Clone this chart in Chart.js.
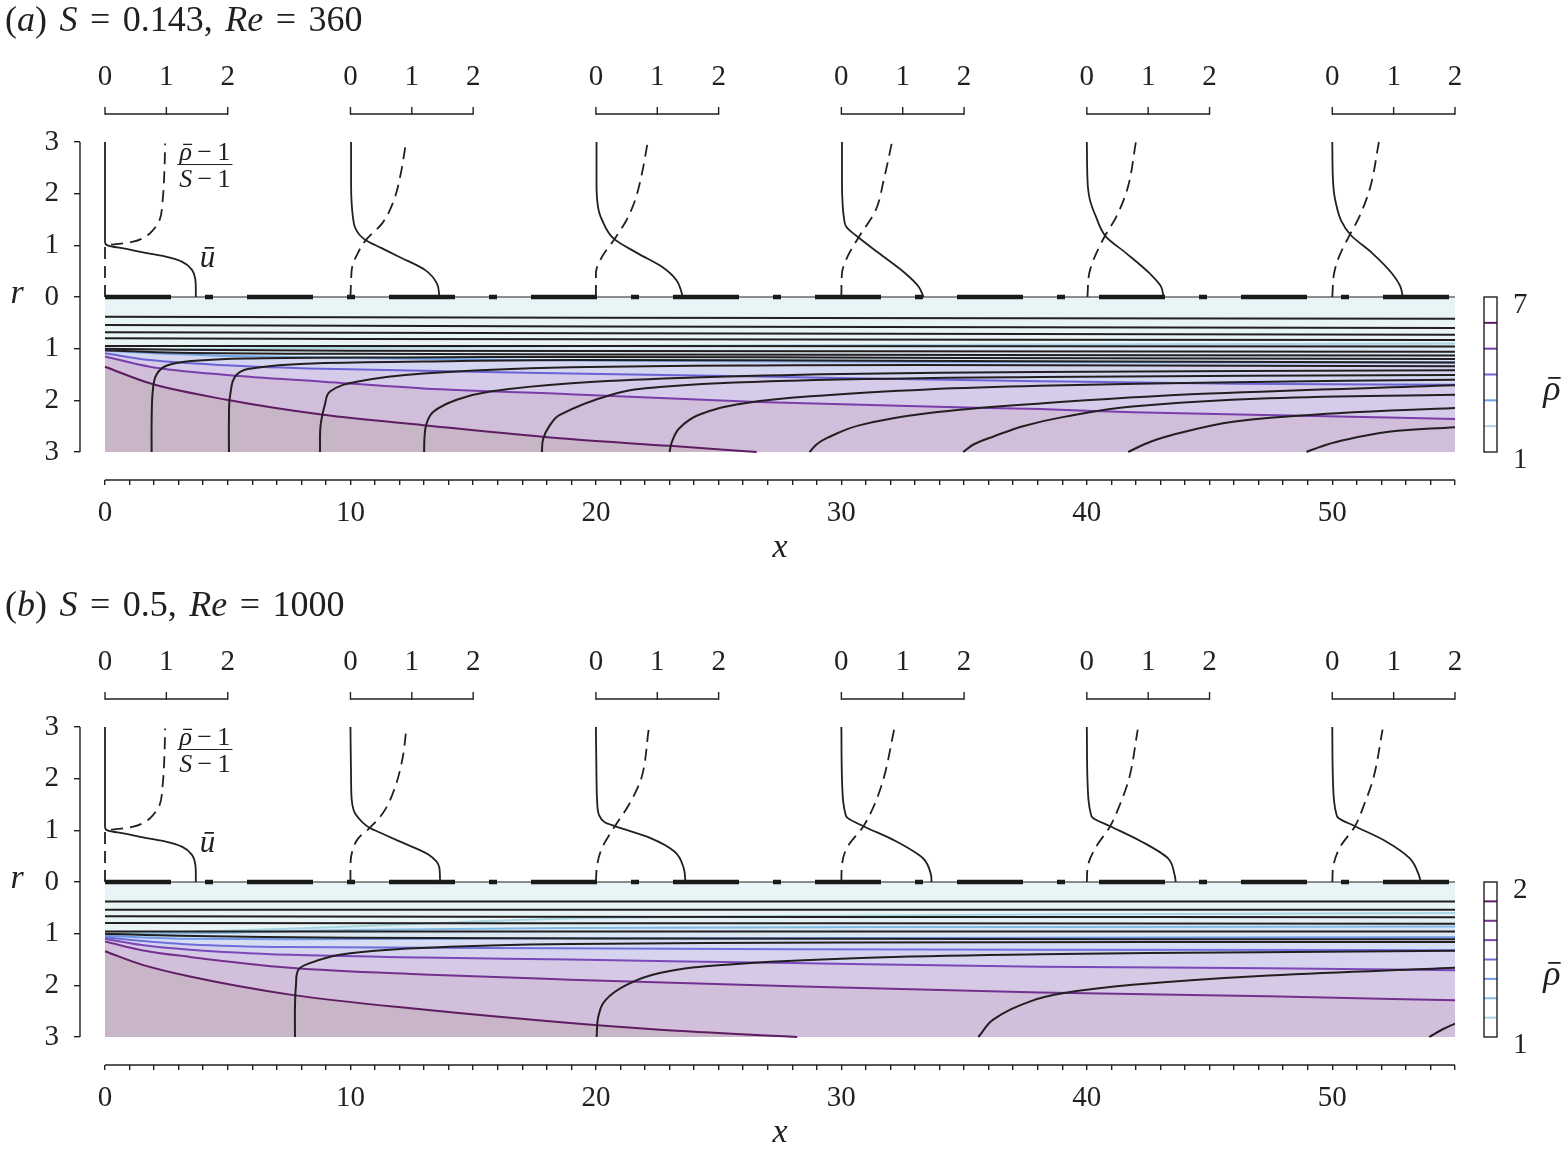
<!DOCTYPE html>
<html><head><meta charset="utf-8">
<script src="https://cdn.jsdelivr.net/npm/chart.js@4.4.1/dist/chart.umd.min.js"></script>
<style>
html,body{margin:0;padding:0;background:#fff;width:1563px;height:1157px;overflow:hidden;}
.panel{position:absolute;left:0;width:1563px;height:585px;}
canvas{position:absolute;left:0;top:0;}
.title{position:absolute;left:5px;top:1px;font-family:"Liberation Serif","Times New Roman",serif;font-size:36px;line-height:1;color:#231f20;white-space:pre;word-spacing:3.5px;}
</style></head><body>
<div class="panel" style="top:0"><canvas id="ca" width="1563" height="585"></canvas><div class="title">(<i>a</i>) <i>S</i> = 0.143, <i>Re</i> = 360</div></div>
<div class="panel" style="top:585px"><canvas id="cb" width="1563" height="585"></canvas><div class="title">(<i>b</i>) <i>S</i> = 0.5, <i>Re</i> = 1000</div></div>
<script>
// ================= DATA =================
const stations = [0, 10, 20, 30, 40, 50];
const profileTickLabels = [0, 1, 2];
const xMajorTicks = [0, 10, 20, 30, 40, 50];
const rTickValues = [3, 2, 1, 0, -1, -2, -3];

// ---- panel (a): S = 0.143, Re = 360 ----
const a_levels = [2, 3, 4, 5, 6];
const a_rhoRange = [1, 7];
// density contours [x, r]
const a_rho2 = [[0,1.02],[5,1.0],[10,0.98],[20,0.95],[38,0.92],[55,0.90]];
const a_rho3 = [[0,1.04],[2,1.09],[5,1.14],[10,1.18],[19,1.23],[38,1.26],[55,1.27]];
const a_rho4 = [[0,1.09],[1.83,1.22],[4.96,1.32],[8.89,1.39],[18.94,1.48],[26.6,1.54],[38.1,1.63],[46,1.68],[55,1.70]];
const a_rho5 = [[0,1.15],[1.83,1.35],[4.96,1.51],[8.89,1.64],[12.97,1.77],[18.94,1.88],[26.6,2.03],[33.5,2.12],[38.1,2.17],[41.9,2.23],[48.8,2.30],[55,2.36]];
const a_rho6 = [[0,1.35],[1.83,1.67],[4.96,1.99],[8.89,2.28],[12.97,2.48],[18.94,2.75],[23.0,2.88],[26.55,3.0]];
// streamlines [x, r]
const a_J1 = [[0,0.38],[20,0.40],[55,0.42]];
const a_J2 = [[0,0.54],[20,0.57],[55,0.60]];
const a_J3 = [[0,0.68],[20,0.70],[55,0.73]];
const a_J4 = [[0,0.80],[20,0.82],[55,0.83]];
const a_J5 = [[0,0.95],[20,0.95],[55,0.96]];
const a_J6 = [[0,1.00],[3,1.02],[10,1.04],[30,1.05],[55,1.06]];
const a_J7 = [[0,1.03],[3,1.08],[10,1.10],[30,1.12],[55,1.13]];
const a_S1 = [[1.9,3],[1.9,2.4],[1.95,1.8],[2.1,1.5],[2.5,1.33],[3.5,1.24],[6,1.19],[12,1.17],[19,1.16],[35,1.18],[55,1.20]];
const a_S2 = [[5.05,3],[5.05,2.4],[5.1,1.9],[5.37,1.5],[6.18,1.37],[8.22,1.29],[12.97,1.25],[19,1.22],[35,1.24],[55,1.27]];
const a_S3 = [[8.76,3],[8.78,2.5],[8.95,2.1],[9.17,1.83],[10.25,1.64],[12.97,1.48],[19,1.36],[28,1.32],[38,1.32],[55,1.34]];
const a_S4 = [[13.0,3],[13.02,2.7],[13.1,2.45],[13.38,2.22],[14.33,1.99],[15.69,1.83],[19,1.67],[24,1.56],[30,1.49],[38,1.45],[55,1.42]];
const a_S5 = [[17.8,3],[17.85,2.75],[18.1,2.5],[18.53,2.28],[20.57,1.90],[22.6,1.74],[28,1.62],[38.1,1.55],[55,1.51]];
const a_S6 = [[23.0,3],[23.1,2.8],[23.4,2.54],[24.2,2.28],[26.0,2.06],[29.4,1.90],[33.5,1.79],[38.1,1.72],[46,1.65],[55,1.60]];
const a_S7 = [[28.7,3],[29.0,2.85],[29.4,2.73],[30.76,2.48],[33.5,2.25],[38.1,2.06],[45,1.87],[55,1.71]];
const a_S8 = [[34.96,3],[35.4,2.85],[36.2,2.70],[37.4,2.50],[39.07,2.32],[41.86,2.12],[47.42,1.96],[55,1.89]];
const a_S9 = [[41.69,3],[42.3,2.86],[43.25,2.70],[46.03,2.41],[50.2,2.25],[55,2.15]];
const a_S10 = [[48.95,3],[49.5,2.9],[50.2,2.80],[52.3,2.61],[55,2.52]];
// profiles [r, value]
const a_u0 = [[3,0],[2,0],[1.3,0],[1.06,0],[1.0,0.04],[0.93,0.35],[0.85,0.68],[0.78,0.99],[0.68,1.26],[0.52,1.42],[0.35,1.47],[0.15,1.48],[0,1.48]];
const a_d0 = [[0,0],[0.5,0],[0.97,0],[1.0,0.03],[1.02,0.15],[1.04,0.3],[1.07,0.46],[1.14,0.62],[1.23,0.73],[1.35,0.82],[1.49,0.89],[1.88,0.94],[2.5,0.97],[2.97,0.98]];
const a_u10 = [[3,0.01],[2.2,0.01],[1.8,0.02],[1.55,0.04],[1.36,0.07],[1.2,0.15],[1.1,0.25],[0.95,0.5],[0.78,0.79],[0.52,1.22],[0.26,1.41],[0,1.45]];
const a_d10 = [[0,0],[0.3,0.01],[0.59,0.03],[0.85,0.12],[1.1,0.25],[1.43,0.52],[1.88,0.71],[2.39,0.82],[2.95,0.90]];
const a_u20 = [[3,0.01],[2.2,0.01],[1.88,0.02],[1.65,0.05],[1.49,0.10],[1.13,0.29],[0.84,0.69],[0.59,1.07],[0.33,1.31],[0.07,1.40],[0,1.41]];
const a_d20 = [[0,0],[0.46,0.0],[0.78,0.10],[1.10,0.29],[1.49,0.50],[1.88,0.64],[2.39,0.75],[2.97,0.84]];
const a_u30 = [[3,0.01],[2.2,0.01],[1.81,0.02],[1.55,0.04],[1.36,0.08],[1.17,0.26],[0.85,0.61],[0.46,1.04],[0.2,1.26],[0,1.34]];
const a_d30 = [[0,0],[0.46,0.01],[0.78,0.10],[1.17,0.29],[1.68,0.56],[2.26,0.69],[2.97,0.82]];
const a_u40 = [[3,0],[2.3,0.01],[2.1,0.02],[1.88,0.05],[1.55,0.15],[1.17,0.31],[0.85,0.64],[0.46,1.02],[0.2,1.21],[0,1.25]];
const a_d40 = [[0,0.01],[0.46,0.04],[0.78,0.13],[1.17,0.29],[1.55,0.48],[2.13,0.67],[3.0,0.80]];
const a_u50 = [[3,0],[2.3,0.01],[2.0,0.03],[1.81,0.06],[1.49,0.14],[1.2,0.30],[0.85,0.65],[0.46,0.97],[0.2,1.11],[0,1.15]];
const a_d50 = [[0,0],[0.46,0.03],[0.78,0.11],[1.17,0.27],[1.55,0.44],[2.13,0.62],[3.0,0.76]];

// ---- panel (b): S = 0.5, Re = 1000 ----
const b_levels = [1.125, 1.25, 1.375, 1.5, 1.625, 1.75, 1.875];
const b_rhoRange = [1, 2];
const b_rho1125 = [[0,1.0],[4,0.96],[10,0.86],[18.5,0.71],[28,0.66],[38.1,0.63],[55,0.60]];
const b_rho125 = [[0,1.02],[5,0.98],[10,0.93],[18.7,0.89],[38,0.87],[55,0.86]];
const b_rho1375 = [[0,1.04],[3.46,1.10],[8,1.11],[18.5,1.09],[38,1.08],[55,1.07]];
const b_rho15 = [[0,1.07],[1.5,1.14],[3.46,1.21],[7.54,1.26],[18.5,1.28],[28,1.30],[38.1,1.31],[55,1.32]];
const b_rho1625 = [[0,1.10],[1.5,1.22],[3.46,1.31],[7.54,1.41],[12.97,1.46],[18.94,1.50],[28,1.57],[38.1,1.64],[47.4,1.67],[55,1.71]];
const b_rho175 = [[0,1.15],[1.5,1.32],[3.46,1.45],[7.54,1.66],[12.97,1.79],[18.94,1.89],[28,2.02],[38.1,2.14],[47.4,2.21],[55,2.29]];
const b_rho1875 = [[0,1.34],[1.5,1.6],[3.46,1.83],[7.54,2.18],[12.97,2.47],[18.94,2.73],[22.6,2.86],[28.2,3.0]];
const b_J1 = [[0,0.375],[30,0.375],[55,0.375]];
const b_J2 = [[0,0.536],[30,0.536],[55,0.536]];
const b_J3 = [[0,0.665],[30,0.675],[55,0.68]];
const b_J4 = [[0,0.794],[30,0.80],[55,0.81]];
const b_J5 = [[0,0.956],[30,0.956],[55,0.956]];
const b_J6 = [[0,1.0],[3,1.04],[10,1.08],[30,1.10],[55,1.11]];
const b_S1 = [[7.74,3],[7.74,2.4],[7.78,2.0],[7.88,1.70],[8.35,1.57],[9.57,1.41],[11.6,1.31],[15.7,1.23],[19,1.20],[30,1.17],[55,1.16]];
const b_S2 = [[20.03,3],[20.1,2.6],[20.4,2.28],[21.25,1.99],[22.6,1.76],[25.3,1.60],[30.8,1.47],[38.1,1.40],[47,1.36],[55,1.33]];
const b_S3 = [[35.58,3],[36.2,2.66],[37.7,2.31],[39.07,2.15],[41.86,1.99],[47.42,1.81],[55,1.66]];
const b_S4 = [[53.95,3],[54.5,2.85],[55,2.74]];
const b_u0 = [[3,0],[2,0],[1.3,0],[1.06,0],[1.0,0.04],[0.93,0.35],[0.85,0.68],[0.78,0.99],[0.68,1.26],[0.52,1.42],[0.35,1.47],[0.15,1.48],[0,1.48]];
const b_d0 = [[0,0],[0.5,0],[0.97,0],[1.0,0.03],[1.02,0.15],[1.04,0.3],[1.07,0.46],[1.14,0.62],[1.23,0.73],[1.35,0.82],[1.49,0.89],[1.88,0.94],[2.5,0.97],[2.97,0.98]];
const b_u10 = [[3,0],[2.0,0.01],[1.6,0.02],[1.4,0.05],[1.3,0.09],[1.15,0.2],[1.05,0.31],[0.92,0.55],[0.79,0.79],[0.53,1.27],[0.27,1.45],[0,1.46]];
const b_d10 = [[0,0],[0.3,0.0],[0.6,0.03],[0.85,0.13],[1.01,0.28],[1.2,0.44],[1.43,0.58],[1.88,0.74],[2.4,0.85],[2.95,0.91]];
const b_u20 = [[3,0],[2.0,0.01],[1.56,0.02],[1.3,0.05],[1.15,0.15],[1.08,0.31],[0.85,0.89],[0.59,1.28],[0.27,1.43],[0,1.46]];
const b_d20 = [[0,0],[0.33,0.02],[0.66,0.10],[1.08,0.31],[1.5,0.54],[2.01,0.74],[2.95,0.86]];
const b_u30 = [[3,0],[2.0,0.01],[1.56,0.03],[1.35,0.06],[1.24,0.10],[1.08,0.36],[0.79,0.89],[0.46,1.33],[0.14,1.46],[0,1.47]];
const b_d30 = [[0,0],[0.33,0.01],[0.66,0.09],[1.08,0.36],[1.5,0.54],[2.01,0.69],[2.95,0.86]];
const b_u40 = [[3,0],[2.0,0.01],[1.56,0.03],[1.35,0.06],[1.24,0.10],[1.08,0.38],[0.79,0.88],[0.46,1.32],[0.14,1.43],[0,1.45]];
const b_d40 = [[0,0],[0.33,0.02],[0.66,0.14],[1.08,0.38],[1.5,0.54],[2.01,0.69],[2.95,0.83]];
const b_u50 = [[3,0],[2.0,0.01],[1.56,0.03],[1.35,0.06],[1.24,0.10],[1.08,0.37],[0.79,0.87],[0.46,1.26],[0.14,1.41],[0,1.44]];
const b_d50 = [[0,0],[0.33,0.02],[0.66,0.12],[1.08,0.37],[1.5,0.52],[2.01,0.67],[2.95,0.82]];

// ================= STYLE / LAYOUT =================
const INK = '#231f20';
const FONT = '"Liberation Serif","Times New Roman",serif';
const X_MIN = 0, X_MAX = 55, R_MAX = 3;
const PS = 2.5;                 // x-units per profile unit (profile axes 0..2 span 5)
const PX_PER_R = 155 / 3;       // vertical layout
const PX_PER_X = 1350 / 55;     // horizontal layout
const AREA = {left: 80, x0: 105, right: 1455, top: 60, bottom: 480, axis0: 297};

const PANEL_A = {
  id: 'a', rhoRange: a_rhoRange, levels: a_levels,
  contours: [a_rho2, a_rho3, a_rho4, a_rho5, a_rho6],
  stream: [a_J1, a_J2, a_J3, a_J4, a_J5, a_J6, a_J7, a_S1, a_S2, a_S3, a_S4, a_S5, a_S6, a_S7, a_S8, a_S9, a_S10],
  u: [a_u0, a_u10, a_u20, a_u30, a_u40, a_u50], d: [a_d0, a_d10, a_d20, a_d30, a_d40, a_d50],
  base: '#e9f4f6',
  bands: ['#dde9f5', '#d5d7f1', '#d6cbe9', '#d1bedb', '#c8b5c7'],
  lines: ['#a9d5e4', '#6ea3e6', '#6a63d6', '#7a3eab', '#5e1c62']
};
const PANEL_B = {
  id: 'b', rhoRange: b_rhoRange, levels: b_levels,
  contours: [b_rho1125, b_rho125, b_rho1375, b_rho15, b_rho1625, b_rho175, b_rho1875],
  stream: [b_J1, b_J2, b_J3, b_J4, b_J5, b_J6, b_S1, b_S2, b_S3, b_S4],
  u: [b_u0, b_u10, b_u20, b_u30, b_u40, b_u50], d: [b_d0, b_d10, b_d20, b_d30, b_d40, b_d50],
  base: '#e9f4f6',
  bands: ['#e2eff5', '#dbe8f4', '#d7def3', '#d6d3ef', '#d5c9e6', '#d1bfdb', '#c8b5c7'],
  lines: ['#a8d7e2', '#82bbe6', '#6f97e6', '#6e6fdc', '#7a48b8', '#73308e', '#5e1c62']
};

// rich text: parts = [text, italic, overbar]
function richText(ctx, parts, x, y, size, align) {
  const w = parts.map(([t, it]) => { ctx.font = (it ? 'italic ' : '') + size + 'px ' + FONT; return ctx.measureText(t).width; });
  const total = w.reduce((a, b) => a + b, 0);
  let cx = align === 'left' ? x : x - total / 2;
  ctx.textAlign = 'left';
  parts.forEach(([t, it, bar], i) => {
    ctx.font = (it ? 'italic ' : '') + size + 'px ' + FONT;
    ctx.fillText(t, cx, y);
    if (bar) {
      ctx.save(); ctx.lineWidth = Math.max(1, size * 0.05); ctx.strokeStyle = ctx.fillStyle;
      ctx.beginPath(); ctx.moveTo(cx + w[i] * 0.28, y - size * 0.6); ctx.lineTo(cx + w[i] * 1.0, y - size * 0.6); ctx.stroke();
      ctx.restore();
    }
    cx += w[i];
  });
  return total;
}

function makeDecor(P) {
  return {
    id: 'decor_' + P.id,
    afterDraw(chart) {
      const ctx = chart.ctx, xs = chart.scales.x, ys = chart.scales.y, ca = chart.chartArea;
      const X = v => xs.getPixelForValue(v), Y = v => ys.getPixelForValue(v);
      const seg = (x1, y1, x2, y2) => { ctx.beginPath(); ctx.moveTo(x1, y1); ctx.lineTo(x2, y2); ctx.stroke(); };
      ctx.save();
      ctx.strokeStyle = INK; ctx.fillStyle = INK; ctx.lineWidth = 1.4; ctx.lineCap = 'butt';
      // detached spines
      seg(ca.left, Y(R_MAX), ca.left, Y(-R_MAX));
      seg(X(X_MIN), ca.bottom, X(X_MAX), ca.bottom);
      // small profile axes on top
      const yb = Y(R_MAX) - 28;
      ctx.font = '29px ' + FONT; ctx.textAlign = 'center'; ctx.textBaseline = 'middle';
      const pMax = profileTickLabels[profileTickLabels.length - 1];
      stations.forEach(x0 => {
        seg(X(x0), yb, X(x0 + PS * pMax), yb);
        profileTickLabels.forEach(t => {
          const px = X(x0 + PS * t);
          seg(px, yb + 0.7, px, yb - 7);
          ctx.fillText(String(t), px, yb - 37);
        });
      });
      // axis titles
      ctx.textBaseline = 'alphabetic'; ctx.textAlign = 'center';
      ctx.font = 'italic 34px ' + FONT;
      ctx.fillText('r', ca.left - 63, Y(0) + 6);
      ctx.fillText('x', (X(X_MIN) + X(X_MAX)) / 2, ca.bottom + 77);
      // colorbar
      const [rmin, rmax] = P.rhoRange;
      const rv = rho => -R_MAX + R_MAX * (rho - rmin) / (rmax - rmin);
      const cbL = ca.right + 29, cbW = 13, cbT = Y(0), cbB = Y(-R_MAX);
      ctx.fillStyle = '#ffffff'; ctx.fillRect(cbL, cbT, cbW, cbB - cbT);
      P.levels.forEach((lv, i) => { ctx.strokeStyle = P.lines[i]; ctx.lineWidth = 2; seg(cbL, Y(rv(lv)), cbL + cbW, Y(rv(lv))); });
      ctx.strokeStyle = INK; ctx.lineWidth = 1.4; ctx.strokeRect(cbL, cbT, cbW, cbB - cbT);
      ctx.fillStyle = INK; ctx.font = '29px ' + FONT; ctx.textAlign = 'left'; ctx.textBaseline = 'middle';
      ctx.fillText(String(rmax), cbL + cbW + 16, cbT + 8);
      ctx.fillText(String(rmin), cbL + cbW + 16, cbB + 8);
      ctx.textBaseline = 'alphabetic';
      richText(ctx, [['\u03C1', true, true]], cbL + cbW + 55, (cbT + cbB) / 2 + 25, 36, 'center');
      // profile annotations
      const fx = X(4.07), barY = Y(2.565);
      const wn = richText(ctx, [['\u03C1', true, true], ['\u2009\u2212\u20091', false]], fx, barY - 4.5, 26, 'center');
      const wd = richText(ctx, [['S', true], ['\u2009\u2212\u20091', false]], fx, barY + 22.5, 26, 'center');
      ctx.lineWidth = 1.2; const bw = Math.max(wn, wd) + 4;
      seg(fx - bw / 2, barY, fx + bw / 2, barY);
      ctx.font = 'italic 31px ' + FONT; ctx.textAlign = 'center';
      ctx.fillText('\u016B', X(4.18), Y(0.58));
      ctx.restore();
    }
  };
}

function buildChart(canvasId, P) {
  const seq = [];
  const lower = pts => pts.map(([x, r]) => ({x, y: -r}));
  seq.push({data: [{x: X_MIN, y: 0}, {x: X_MAX, y: 0}], backgroundColor: P.base, borderWidth: 0, fill: {value: -R_MAX}});
  P.contours.forEach((c, i) => seq.push({data: lower(c), backgroundColor: P.bands[i], borderWidth: 0, fill: {value: -R_MAX}, cubicInterpolationMode: 'monotone'}));
  P.contours.forEach((c, i) => seq.push({data: lower(c), borderColor: P.lines[i], borderWidth: 2, cubicInterpolationMode: 'monotone'}));
  P.stream.forEach(s => seq.push({data: lower(s), borderColor: INK, borderWidth: 2, tension: 0.4}));
  seq.push({data: [{x: X_MIN, y: 0}, {x: X_MAX, y: 0}], borderColor: INK, borderWidth: 1.2});
  seq.push({data: [{x: X_MIN, y: 0}, {x: X_MAX, y: 0}], borderColor: '#1a1a1a', borderWidth: 4.5, borderDash: [66, 34, 8, 34], borderCapStyle: 'butt'});
  stations.forEach((x0, k) => {
    seq.push({data: P.u[k].map(([r, v]) => ({x: x0 + PS * v, y: r})), borderColor: INK, borderWidth: 1.8, indexAxis: 'y', cubicInterpolationMode: 'monotone'});
    seq.push({data: P.d[k].map(([r, v]) => ({x: x0 + PS * v, y: r})), borderColor: INK, borderWidth: 1.8, indexAxis: 'y', cubicInterpolationMode: 'monotone', borderDash: [12, 7]});
  });
  seq.forEach((d, i) => {
    d.order = seq.length - i; d.pointRadius = 0; d.pointHoverRadius = 0;
    if (d.fill === undefined) d.fill = false;
    if (d.backgroundColor === undefined) d.backgroundColor = 'transparent';
  });
  const canvas = document.getElementById(canvasId);
  const H = canvas.height;
  const xMin = X_MIN - (AREA.x0 - AREA.left) / PX_PER_X;
  const yMax = (AREA.axis0 - AREA.top) / PX_PER_R;
  const yMin = -(AREA.bottom - AREA.axis0) / PX_PER_R;
  const minorTicks = [];
  for (let v = X_MIN; v <= X_MAX; v += 1) minorTicks.push(v);
  return new Chart(canvas, {
    type: 'line',
    data: {datasets: seq},
    options: {
      responsive: false, animation: false, devicePixelRatio: 1, events: [],
      layout: {padding: {left: 0, right: canvas.width - AREA.right, top: AREA.top, bottom: 0}, autoPadding: false},
      plugins: {legend: {display: false}, tooltip: {enabled: false}},
      scales: {
        x: {
          type: 'linear', min: xMin, max: X_MAX,
          afterBuildTicks: s => { s.ticks = minorTicks.map(v => ({value: v})); },
          afterFit: s => { s.height = H - AREA.bottom; },
          grid: {drawOnChartArea: false, drawTicks: true, tickLength: 5, color: INK, lineWidth: 1.4},
          border: {display: false},
          ticks: {autoSkip: false, maxRotation: 0, padding: 11, color: INK, font: {family: FONT, size: 29},
                  callback: v => xMajorTicks.includes(v) ? String(v) : ''}
        },
        y: {
          type: 'linear', min: yMin, max: yMax,
          afterBuildTicks: s => { s.ticks = rTickValues.map(v => ({value: v})); },
          afterFit: s => { s.width = AREA.left; },
          grid: {drawOnChartArea: false, drawTicks: true, tickLength: 6, color: INK, lineWidth: 1.4},
          border: {display: false},
          ticks: {padding: 15, color: INK, font: {family: FONT, size: 29}, callback: v => String(Math.abs(v))}
        }
      }
    },
    plugins: [makeDecor(P)]
  });
}

buildChart('ca', PANEL_A);
buildChart('cb', PANEL_B);
</script>
</body></html>
